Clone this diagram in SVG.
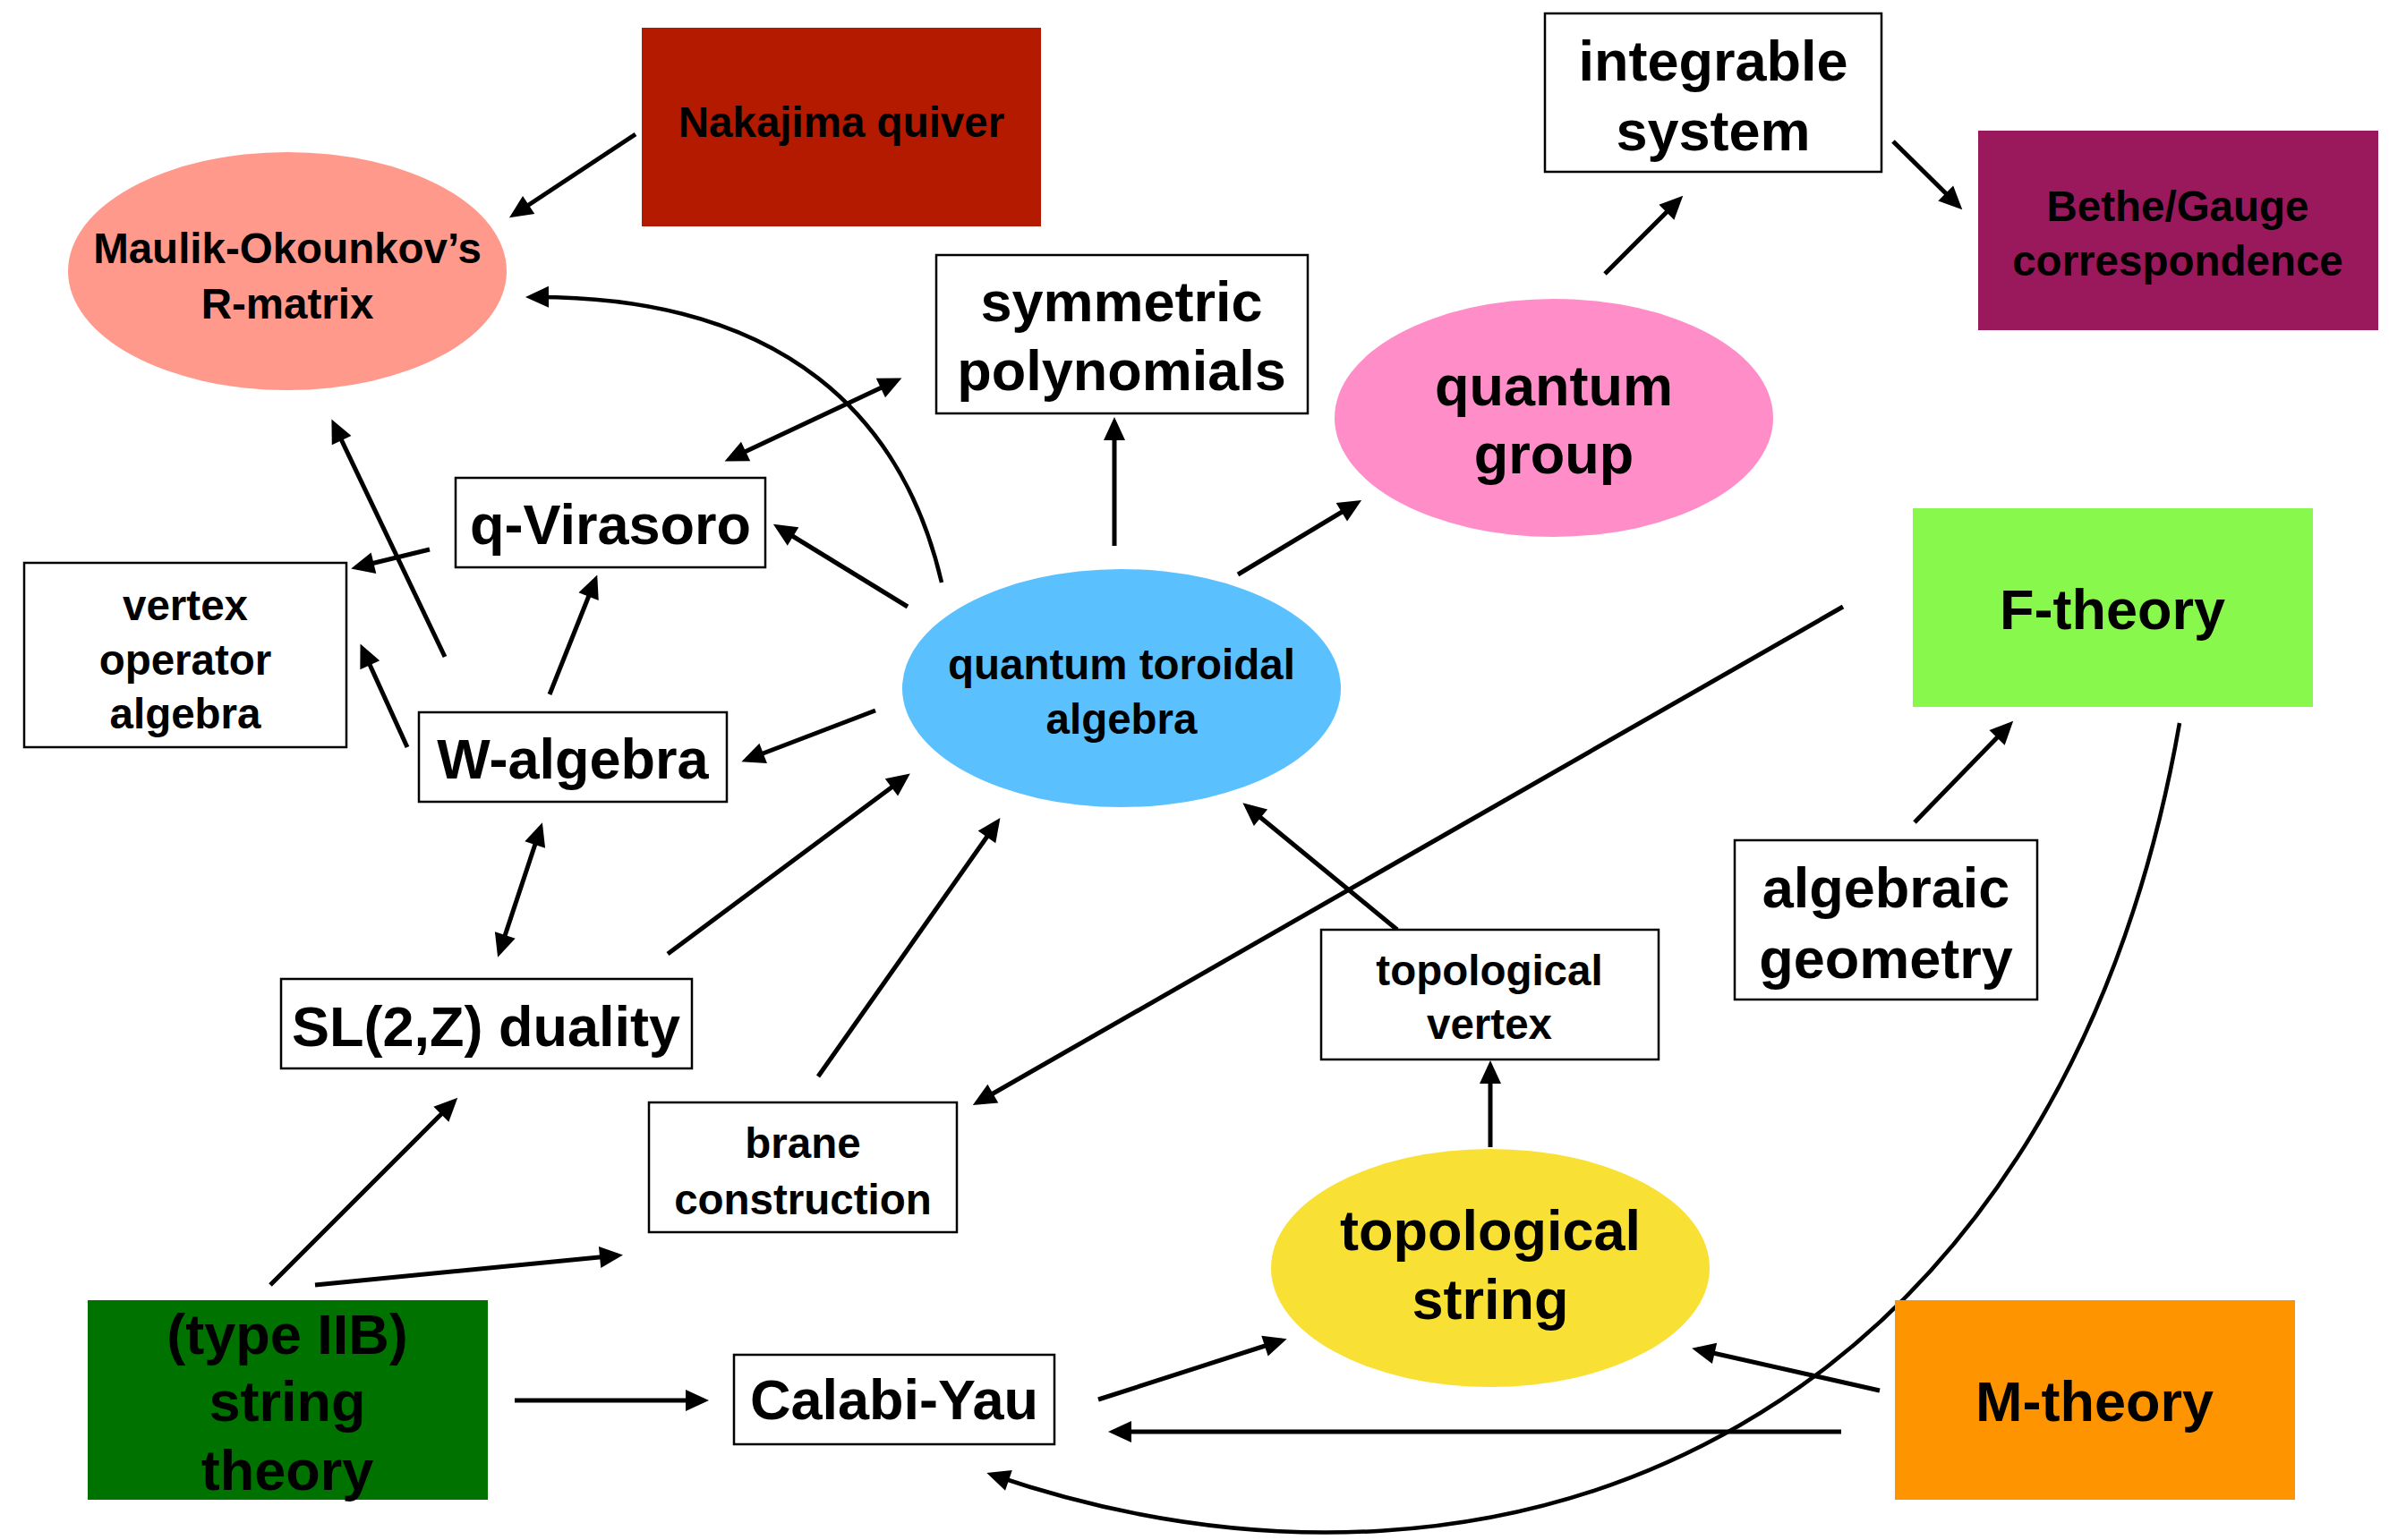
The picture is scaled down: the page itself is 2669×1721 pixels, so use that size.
<svg xmlns="http://www.w3.org/2000/svg" width="2669" height="1721" viewBox="0 0 2669 1721">
<style>
text{font-family:"Liberation Sans",Arial,Helvetica,sans-serif;font-weight:bold;fill:#000;text-anchor:middle}
.L{font-size:63px}
.S{font-size:47.5px}
.box{fill:#fff;stroke:#000;stroke-width:2.5}
.c line,.c path{stroke:#000;stroke-width:5;fill:none;marker-end:url(#ah)}
.c .cv{stroke-width:4.5}
.c .bi{marker-start:url(#ah)}
</style>
<defs>
<marker id="ah" markerUnits="userSpaceOnUse" markerWidth="26" markerHeight="24" refX="20" refY="12" orient="auto-start-reverse" overflow="visible">
<path d="M0,0 L26,12 L0,24 z" fill="#000"/>
</marker>
</defs>
<rect width="2669" height="1721" fill="#fff"/>
<g class="c" id="connectors">
<line x1="710" y1="150" x2="574" y2="240"/>
<path class="cv" d="M1052,651 C1010,470 880,330 593,332"/>
<line class="bi" x1="1002" y1="425" x2="815" y2="513"/>
<line x1="1014" y1="678" x2="869" y2="589"/>
<line x1="480" y1="614" x2="398" y2="634"/>
<line x1="497" y1="734" x2="373" y2="474"/>
<line x1="614" y1="776" x2="665" y2="648"/>
<line x1="455" y1="835" x2="405" y2="725"/>
<line x1="978" y1="794" x2="834" y2="849"/>
<line x1="2115" y1="158" x2="2188" y2="230"/>
<line x1="1793" y1="306" x2="1876" y2="223"/>
<line x1="1245" y1="610" x2="1245" y2="472"/>
<line x1="1383" y1="642" x2="1516" y2="562"/>
<line x1="2059" y1="678" x2="1092" y2="1232"/>
<line x1="2139" y1="919" x2="2245" y2="810"/>
<path class="cv" d="M2435,808 C2300,1580 1700,1850 1108,1648"/>
<line class="bi" x1="558" y1="1064" x2="604" y2="925"/>
<line x1="746" y1="1066" x2="1012" y2="868"/>
<line x1="914" y1="1203" x2="1114" y2="919"/>
<line x1="302" y1="1436" x2="507" y2="1231"/>
<line x1="352" y1="1436" x2="690" y2="1403"/>
<line x1="575" y1="1565" x2="786" y2="1565"/>
<line x1="1561" y1="1039" x2="1393" y2="901"/>
<line x1="1665" y1="1282" x2="1665" y2="1191"/>
<line x1="1227" y1="1564" x2="1432" y2="1498"/>
<line x1="2100" y1="1554" x2="1896" y2="1508"/>
<line x1="2057" y1="1600" x2="1244" y2="1600"/>
</g>
<g id="nakajima"><rect x="717" y="31" width="446" height="222" fill="#B31A00"/><text class="S" x="940" y="153">Nakajima quiver</text></g>
<g id="maulik"><ellipse cx="321" cy="303" rx="245" ry="133" fill="#FF998C"/><text class="S" x="321" y="294">Maulik-Okounkov’s</text><text class="S" x="321" y="356">R-matrix</text></g>
<g id="symmetric"><rect class="box" x="1046" y="285" width="415" height="177"/><text class="L" x="1253" y="359">symmetric</text><text class="L" x="1253" y="436">polynomials</text></g>
<g id="integrable"><rect class="box" x="1726" y="15" width="376" height="177"/><text class="L" x="1914" y="90">integrable</text><text class="L" x="1914" y="168">system</text></g>
<g id="bethe"><rect x="2210" y="146" width="447" height="223" fill="#9A185C"/><text class="S" x="2433" y="247">Bethe/Gauge</text><text class="S" x="2433" y="308">correspondence</text></g>
<g id="qgroup"><ellipse cx="1736" cy="467" rx="245" ry="133" fill="#FF8EC8"/><text class="L" x="1736" y="453">quantum</text><text class="L" x="1736" y="529">group</text></g>
<g id="ftheory"><rect x="2137" y="568" width="447" height="222" fill="#88F84C"/><text class="L" x="2360" y="703">F-theory</text></g>
<g id="qtoroidal"><ellipse cx="1253" cy="769" rx="245" ry="133" fill="#5AC0FE"/><text class="S" x="1253" y="759">quantum toroidal</text><text class="S" x="1253" y="820">algebra</text></g>
<g id="qvirasoro"><rect class="box" x="509" y="534" width="346" height="100"/><text class="L" x="682" y="608">q-Virasoro</text></g>
<g id="voa"><rect class="box" x="27" y="629" width="360" height="206"/><text class="S" x="207" y="693">vertex</text><text class="S" x="207" y="754">operator</text><text class="S" x="207" y="814">algebra</text></g>
<g id="walgebra"><rect class="box" x="468" y="796" width="344" height="100"/><text class="L" x="640" y="870">W-algebra</text></g>
<g id="sl2z"><rect class="box" x="314" y="1094" width="459" height="100"/><text class="L" x="543" y="1169">SL(2,Z) duality</text></g>
<g id="brane"><rect class="box" x="725" y="1232" width="344" height="145"/><text class="S" x="897" y="1294">brane</text><text class="S" x="897" y="1357">construction</text></g>
<g id="iib"><rect x="98" y="1453" width="447" height="223" fill="#007200"/><text class="L" x="321" y="1513">(type IIB)</text><text class="L" x="321" y="1588">string</text><text class="L" x="321" y="1665">theory</text></g>
<g id="calabiyau"><rect class="box" x="820" y="1514" width="358" height="100"/><text class="L" x="999" y="1586">Calabi-Yau</text></g>
<g id="topvertex"><rect class="box" x="1476" y="1039" width="377" height="145"/><text class="S" x="1664" y="1101">topological</text><text class="S" x="1664" y="1161">vertex</text></g>
<g id="alggeom"><rect class="box" x="1938" y="939" width="338" height="178"/><text class="L" x="2107" y="1014">algebraic</text><text class="L" x="2107" y="1093">geometry</text></g>
<g id="topstring"><ellipse cx="1665" cy="1417" rx="245" ry="133" fill="#F9E034"/><text class="L" x="1665" y="1397">topological</text><text class="L" x="1665" y="1474">string</text></g>
<g id="mtheory"><rect x="2117" y="1453" width="447" height="223" fill="#FE9400"/><text class="L" x="2340" y="1588">M-theory</text></g>
</svg>
